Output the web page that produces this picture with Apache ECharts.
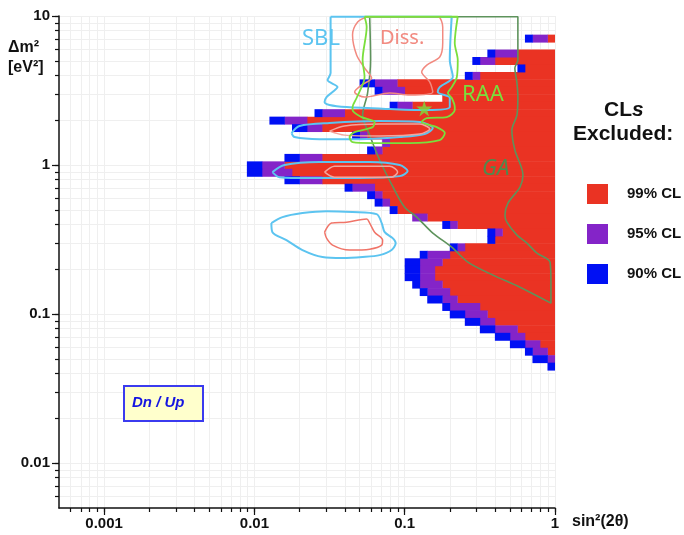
<!DOCTYPE html>
<html>
<head>
<meta charset="utf-8">
<script src="https://cdn.jsdelivr.net/npm/echarts@6/dist/echarts.min.js"></script>
<style>html,body{margin:0;background:#fff}#main{width:684px;height:535px}</style>
</head>
<body>
<div id="main"></div>
<script>
// everything is in log10 units: x = log10 sin^2(2theta), y = log10 dm^2
var xTickVals = [-3, -2, -1, 0];
var xTickText = ['0.001', '0.01', '0.1', '1'];
var yTickVals = [-2, -1, 0, 1];
var yTickText = ['0.01', '0.1', '1', '10'];

// excluded cells, one row per dm^2 bin: where 90%, 95%, 99% start (they run to the right edge)
var rowLogDm2 = [0.85, 0.75, 0.7, 0.65, 0.6, 0.55, 0.5, 0.45, 0.4, 0.35, 0.3, 0.25, 0.2, 0.15, 0.1, 0.05, 0,
  -0.05, -0.1, -0.15, -0.2, -0.25, -0.3, -0.35, -0.4, -0.45, -0.5, -0.55, -0.6, -0.65, -0.7, -0.75, -0.8,
  -0.85, -0.9, -0.95, -1.0, -1.05, -1.1, -1.15, -1.2, -1.25, -1.3, -1.35];
var edge90 = [-0.2, -0.45, -0.55, -0.25, -0.6, -1.3, -1.2, -0.75, -1.1, -1.6, -1.9, -1.75, -1.35, -1.15, -1.25, -1.8, -2.05,
  -2.05, -1.8, -1.4, -1.25, -1.2, -1.1, -0.95, -0.75, -0.45, -0.45, -0.7, -0.9, -1.0, -1.0, -1.0, -0.95,
  -0.9, -0.85, -0.75, -0.7, -0.6, -0.5, -0.4, -0.3, -0.2, -0.15, -0.05];
var edge95 = [-0.15, -0.4, -0.5, -0.2, -0.55, -1.2, -1.15, -0.75, -1.05, -1.55, -1.8, -1.65, -1.3, -1.15, -1.2, -1.7, -1.95,
  -1.95, -1.7, -1.35, -1.2, -1.15, -1.05, -0.95, -0.7, -0.4, -0.4, -0.65, -0.85, -0.9, -0.9, -0.9, -0.9,
  -0.85, -0.75, -0.7, -0.6, -0.5, -0.4, -0.3, -0.2, -0.15, -0.05, 0];
var edge99 = [-0.05, -0.25, -0.4, -0.2, -0.5, -1.05, -1.0, -0.75, -0.95, -1.4, -1.65, -1.55, -1.25, -1.1, -1.15, -1.55, -1.8,
  -1.75, -1.55, -1.2, -1.15, -1.1, -1.05, -0.85, -0.65, -0.35, -0.4, -0.6, -0.7, -0.75, -0.8, -0.8, -0.75,
  -0.7, -0.65, -0.5, -0.45, -0.4, -0.25, -0.2, -0.1, -0.05, 0, 0];

// contours
var sbl1 = [[-1.493, 0.995], [-0.687, 0.995], [-0.7, 0.705], [-0.68, 0.591], [-0.767, 0.523], [-0.78, 0.49], [-0.7, 0.45],
  [-0.7, 0.389], [-0.853, 0.369], [-1.1, 0.376], [-1.387, 0.389], [-1.5, 0.403], [-1.533, 0.423], [-1.52, 0.456],
  [-1.48, 0.49], [-1.447, 0.523], [-1.513, 0.57], [-1.493, 0.617]];
var sbl2 = [[-1.753, 0.215], [-1.7, 0.262], [-1.5, 0.282], [-1.167, 0.295], [-0.9, 0.289], [-0.813, 0.248], [-0.867, 0.208],
  [-1.033, 0.188], [-1.3, 0.174], [-1.567, 0.174], [-1.733, 0.188]];
var sbl3 = [[-1.88, -0.047], [-1.8, 0], [-1.567, 0.02], [-1.233, 0.02], [-1.033, 0], [-0.98, -0.04], [-1.033, -0.074],
  [-1.3, -0.087], [-1.633, -0.087], [-1.833, -0.081]];
var sbl4 = [[-1.887, -0.389], [-1.813, -0.349], [-1.68, -0.322], [-1.52, -0.309], [-1.347, -0.315], [-1.187, -0.329],
  [-1.153, -0.389], [-1.133, -0.45], [-1.08, -0.49], [-1.06, -0.523], [-1.087, -0.57], [-1.167, -0.604], [-1.28, -0.617],
  [-1.413, -0.624], [-1.547, -0.617], [-1.68, -0.57], [-1.787, -0.503], [-1.88, -0.45]];
var diss1 = [[-1.247, 0.995], [-0.78, 0.995], [-0.747, 0.926], [-0.747, 0.819], [-0.767, 0.725], [-0.853, 0.671],
  [-0.887, 0.624], [-0.833, 0.557], [-0.813, 0.49], [-0.967, 0.47], [-1.1, 0.483], [-1.267, 0.456], [-1.333, 0.49],
  [-1.287, 0.537], [-1.22, 0.584], [-1.267, 0.651], [-1.32, 0.738], [-1.347, 0.872], [-1.313, 0.96]];
var diss2 = [[-1.5, 0.228], [-1.4, 0.262], [-1.167, 0.275], [-0.9, 0.275], [-0.833, 0.242], [-0.9, 0.208], [-1.167, 0.195], [-1.4, 0.201]];
var diss3 = [[-1.533, -0.047], [-1.467, -0.007], [-1.1, -0.007], [-1.047, -0.047], [-1.087, -0.081], [-1.467, -0.081]];
var diss4 = [[-1.533, -0.45], [-1.487, -0.389], [-1.387, -0.383], [-1.253, -0.362], [-1.233, -0.389], [-1.2, -0.45],
  [-1.147, -0.503], [-1.153, -0.537], [-1.233, -0.564], [-1.367, -0.57], [-1.48, -0.537], [-1.52, -0.49]];
var raa = [[-1.267, 0.995], [-0.647, 0.995], [-0.667, 0.819], [-0.647, 0.705], [-0.653, 0.591], [-0.687, 0.523],
  [-0.713, 0.483], [-0.687, 0.45], [-0.667, 0.389], [-0.667, 0.369], [-0.72, 0.322], [-0.853, 0.315], [-0.887, 0.289],
  [-0.787, 0.255], [-0.733, 0.215], [-0.767, 0.168], [-0.967, 0.148], [-1.213, 0.148], [-1.347, 0.154], [-1.367, 0.188],
  [-1.333, 0.221], [-1.213, 0.255], [-1.2, 0.289], [-1.287, 0.322], [-1.347, 0.369], [-1.347, 0.389], [-1.32, 0.45],
  [-1.267, 0.591], [-1.28, 0.705], [-1.253, 0.926]];
var ga = [[-1.233, 0.995], [-0.247, 0.995], [-0.247, 0.705], [-0.267, 0.651], [-0.253, 0.55], [-0.247, 0.456],
  [-0.253, 0.336], [-0.287, 0.235], [-0.267, 0.101], [-0.213, -0.067], [-0.233, -0.148], [-0.313, -0.255],
  [-0.333, -0.336], [-0.32, -0.383], [-0.253, -0.47], [-0.187, -0.523], [-0.12, -0.591], [-0.033, -0.651],
  [-0.027, -0.785], [-0.027, -0.926], [-0.233, -0.819], [-0.413, -0.738], [-0.58, -0.651], [-0.687, -0.55],
  [-0.813, -0.456], [-0.92, -0.349], [-1.0, -0.282], [-1.067, -0.168], [-1.167, 0.034], [-1.233, 0.201],
  [-1.28, 0.336], [-1.247, 0.483], [-1.227, 0.705]];
var bestFit = [[-0.87, 0.38]];

var RED = '#EA3323', PURPLE = '#8424C8', BLUE = '#0010F4';
var FONT = 'Liberation Sans';
var GRIDCOL = '#efefef';
var halfRow = 0.025;

function logTicks(lo, hi) {
  var out = [];
  for (var n = Math.floor(lo); n <= Math.ceil(hi); n++) {
    for (var k = 1; k <= 9; k++) {
      var v = n + Math.log10(k);
      if (v >= lo - 1e-9 && v <= hi + 1e-9) out.push(v);
    }
  }
  return out;
}

function cellData(from, to) {
  var d = [];
  for (var i = 0; i < rowLogDm2.length; i++) {
    if (to[i] > from[i] + 1e-9) d.push([from[i], to[i], rowLogDm2[i]]);
  }
  return d;
}
var rightEdge = rowLogDm2.map(function () { return 0; });

function cellItem(params, api) {
  var p0 = api.coord([api.value(0), api.value(2) + halfRow]);
  var p1 = api.coord([api.value(1), api.value(2) - halfRow]);
  return {
    type: 'rect',
    shape: {x: p0[0], y: p0[1], width: p1[0] - p0[0] + 0.4, height: p1[1] - p0[1] + 0.5},
    style: {fill: api.visual('color')}
  };
}

function cellSeries(name, color, from, to) {
  return {
    name: name, type: 'custom', renderItem: cellItem, clip: true,
    itemStyle: {color: color},
    encode: {x: [0, 1], y: 2},
    data: cellData(from, to), z: 2, silent: true
  };
}

function loop(name, pts, color, width) {
  return {
    name: name, type: 'line', data: pts.concat([pts[0]]), symbol: 'none',
    smooth: 0.3, lineStyle: {color: color, width: width}, z: 5, silent: true
  };
}

function fmt(vals, texts) {
  return function (v) {
    var i = vals.indexOf(Math.round(v));
    return i >= 0 ? texts[i] : '';
  };
}

var labelStyle = {fontFamily: FONT, fontWeight: 'bold', fontSize: 15, color: '#111'};

var chart = echarts.init(document.getElementById('main'));
var option = {
  animation: false,
  grid: {left: 59, top: 16, width: 496, height: 492},
  xAxis: [{
    type: 'value', min: -3.3, max: 0, position: 'bottom',
    axisLine: {onZero: false, lineStyle: {color: '#111', width: 1.5}},
    axisTick: {customValues: logTicks(-3.3, 0), length: 4, lineStyle: {color: '#111', width: 1.2}},
    splitLine: {show: true, lineStyle: {color: GRIDCOL, width: 1}},
    axisLabel: Object.assign({customValues: xTickVals, formatter: fmt(xTickVals, xTickText), margin: 8}, labelStyle)
  }, {
    type: 'value', min: -3.3, max: 0, position: 'bottom',
    axisLine: {show: false, onZero: false},
    axisTick: {customValues: xTickVals, length: 7, lineStyle: {color: '#111', width: 1.2}},
    splitLine: {show: false}, axisLabel: {show: false}
  }],
  yAxis: [{
    type: 'value', min: -2.3, max: 1, position: 'left',
    axisLine: {show: true, onZero: false, lineStyle: {color: '#111', width: 1.5}},
    axisTick: {show: true, customValues: logTicks(-2.3, 1), length: 4, lineStyle: {color: '#111', width: 1.2}},
    splitLine: {show: true, lineStyle: {color: GRIDCOL, width: 1}},
    axisLabel: Object.assign({customValues: yTickVals, formatter: fmt(yTickVals, yTickText), margin: 9}, labelStyle)
  }, {
    type: 'value', min: -2.3, max: 1, position: 'left',
    axisLine: {show: false, onZero: false},
    axisTick: {show: true, customValues: yTickVals, length: 7, lineStyle: {color: '#111', width: 1.2}},
    splitLine: {show: false}, axisLabel: {show: false}
  }],
  legend: {
    left: 582, top: 179, orient: 'vertical', selectedMode: false,
    itemWidth: 21, itemHeight: 20, itemGap: 20,
    textStyle: {fontFamily: FONT, fontWeight: 'bold', fontSize: 15, color: '#111', padding: [0, 0, 0, 14]},
    data: [{name: '99% CL', icon: 'rect'}, {name: '95% CL', icon: 'rect'}, {name: '90% CL', icon: 'rect'}]
  },
  series: [
    cellSeries('99% CL', RED, edge99, rightEdge),
    cellSeries('95% CL', PURPLE, edge95, edge99),
    cellSeries('90% CL', BLUE, edge90, edge95),
    loop('GA', ga, '#5E935C', 1.6),
    loop('SBL1', sbl1, '#5CC4F0', 2),
    loop('SBL2', sbl2, '#5CC4F0', 2),
    loop('SBL3', sbl3, '#5CC4F0', 2),
    loop('SBL4', sbl4, '#5CC4F0', 2),
    loop('Diss1', diss1, '#F28A80', 1.5),
    loop('Diss2', diss2, '#F4A59C', 1.5),
    loop('Diss3', diss3, '#F4A59C', 1.5),
    loop('Diss4', diss4, '#F07468', 1.5),
    loop('RAA', raa, '#7ADF3C', 1.8),
    {
      name: 'best fit', type: 'scatter', data: bestFit, z: 6, silent: true,
      symbol: 'path://M50,0 L61,35 L98,35 L68,57 L79,91 L50,70 L21,91 L32,57 L2,35 L39,35 Z',
      symbolSize: 16, itemStyle: {color: '#7ADF3C'}
    }
  ],
  graphic: [
    {type: 'text', left: 8, top: 40, z: 100, style: {text: 'Δm²', font: 'bold 16px ' + FONT, fill: '#111'}},
    {type: 'text', left: 8, top: 60, z: 100, style: {text: '[eV²]', font: 'bold 16px ' + FONT, fill: '#111'}},
    {type: 'text', left: 572, top: 514, z: 100, style: {text: 'sin²(2θ)', font: 'bold 16px ' + FONT, fill: '#111'}},
    {type: 'text', left: 604, top: 100, z: 100, style: {
      text: '{a|CL}{b|s}', rich: {a: {font: 'bold 21px ' + FONT, fill: '#111'}, b: {font: 'italic bold 21px ' + FONT, fill: '#111'}}
    }},
    {type: 'text', left: 573, top: 124, z: 100, style: {text: 'Excluded:', font: 'bold 21px ' + FONT, fill: '#111'}},
    {type: 'rect', left: 123, top: 385, z: 100, shape: {width: 79, height: 35},
      style: {fill: '#FFFFCC', stroke: '#3B3BEF', lineWidth: 2}},
    {type: 'text', left: 132, top: 395, z: 101, style: {text: 'Dn / Up', font: 'italic bold 15px ' + FONT, fill: '#1515E0'}},
    {type: 'text', left: 302, top: 28, z: 100, style: {text: 'SBL', font: '22px "Noto Sans"', fill: '#5CC4F0'}},
    {type: 'text', left: 380, top: 28, z: 100, style: {text: 'Diss.', font: '20px "Noto Sans"', fill: '#F28A80'}},
    {type: 'text', left: 462, top: 84, z: 100, style: {text: 'RAA', font: '22px "Noto Sans"', fill: '#7ADF3C'}},
    {type: 'text', left: 482, top: 158, z: 100, style: {text: 'GA', font: 'italic 22px "Noto Sans"', fill: '#4E8A4E'}}
  ]
};
chart.setOption(option);
</script>
</body>
</html>
